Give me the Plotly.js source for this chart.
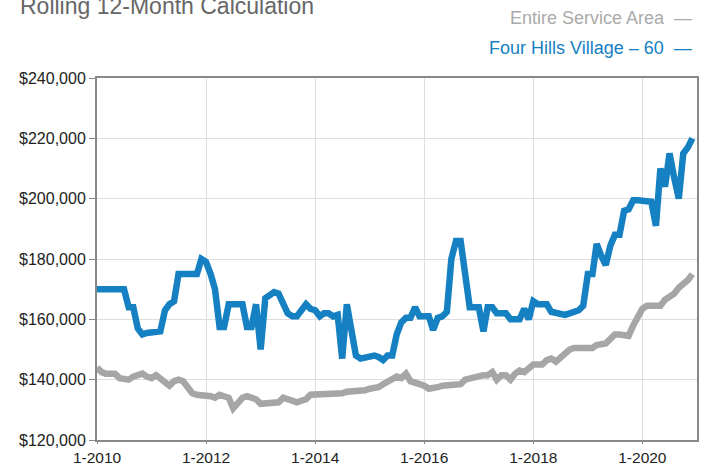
<!DOCTYPE html>
<html>
<head>
<meta charset="utf-8">
<script src="https://cdn.plot.ly/plotly-3.0.1.min.js"></script>
<style>
html,body{margin:0;padding:0;background:#fff;}
#chart{width:704px;height:466px;}
</style>
</head>
<body>
<div id="chart"></div>
<script>
// Monthly series, Jan 2010 .. Dec 2020
const startYear = 2010;
const fourHills = [
 170000,170000,170000,170000,170000,170000,170000,164000,164000,157000,155000,155500,
 155500,156000,156000,163000,165000,166000,175000,175000,175000,175000,175000,180000,
 179000,175000,170000,157500,157500,165000,165000,165000,165000,157500,157500,165000,
 150000,167000,168000,169000,168500,165000,162000,161000,161000,163000,165000,163500,
 163000,161000,162000,162000,161000,161500,147000,165000,156000,148000,147000,147500,
 147500,148000,147500,146500,148000,148000,155000,159000,160500,160500,164000,161000,
 161000,161000,156500,160500,161000,162500,180000,186000,186000,175000,164000,164000,
 164000,156000,164000,164000,162000,162000,162000,160000,160000,160000,163500,160000,
 166000,165000,165000,165000,162500,162000,162000,161500,162000,162500,163000,164500,
 175000,175000,185000,181000,178000,184500,188000,188000,196000,196500,199500,199500,
 199500,199500,199000,191000,210000,204000,215000,207000,200000,215000,217000,220000
];
const serviceArea = [
 144000,142500,142000,142000,142000,140500,140000,140000,141000,141500,142000,141000,
 140500,141500,140500,139500,138000,139500,140000,139500,137500,135500,135000,135000,
 135000,134500,134000,135000,134500,134000,130500,132500,134000,134500,134000,133500,
 132000,132000,132000,132000,132500,134000,133500,133000,132500,133000,133500,135000,
 135000,135000,135000,135000,135000,135000,135500,136000,136000,136000,136000,136500,
 137000,137000,137500,138500,139500,140500,141000,140500,142000,139500,139000,139000,
 138000,137000,137000,137500,138000,138000,138000,138000,138500,140000,140500,141000,
 141000,141500,141500,142500,140000,141500,141500,140000,142000,143000,142500,143500,
 145000,145000,145000,146500,147000,146000,147500,149000,150000,150500,150500,150500,
 150500,150500,151500,152000,152000,153500,155000,155000,155000,154500,158000,161000,
 163500,164500,164500,164500,164500,166500,167500,168500,170500,171500,173000,175000
];
const tickVals = ['2010-01-01','2012-01-01','2014-01-01','2016-01-01','2018-01-01','2020-01-01'];
const tickText = ['1-2010','1-2012','1-2014','1-2016','1-2018','1-2020'];
const yTickVals = [120000,140000,160000,180000,200000,220000,240000];
const yTickText = ['$120,000','$140,000','$160,000','$180,000','$200,000','$220,000','$240,000'];

function monthDates(n){
  const out=[];
  for(let i=0;i<n;i++){
    const y = startYear + Math.floor(i/12);
    const m = (i%12)+1;
    out.push(y+'-'+String(m).padStart(2,'0')+'-01');
  }
  return out;
}
const dates = monthDates(fourHills.length);

const gray = '#a6a6a6';
const blue = '#1580c2';
const font = '"Liberation Sans", Arial, sans-serif';

const traces = [
 {x: dates, y: serviceArea, type:'scatter', mode:'lines', name:'Entire Service Area',
  line:{color:gray, width:6.5}, hoverinfo:'skip'},
 {x: dates, y: fourHills, type:'scatter', mode:'lines', name:'Four Hills Village – 60',
  line:{color:blue, width:6.5}, hoverinfo:'skip'}
];

const layout = {
  width:704, height:466,
  margin:{l:97, r:7, t:78, b:26},
  paper_bgcolor:'#fff', plot_bgcolor:'#fff',
  showlegend:false,
  title:{text:'Rolling 12-Month Calculation', x:20/704, xref:'container', xanchor:'left',
         y:1-14/466, yref:'container', yanchor:'bottom',
         font:{family:font, size:23, color:'#666'}},
  xaxis:{type:'date', range:['2010-01-01','2021-01-01'],
         tickvals:tickVals, ticktext:tickText, ticks:'outside', ticklen:2, tickcolor:'#888',
         showgrid:true, gridcolor:'#dedede', gridwidth:1,
         showline:true, linecolor:'#888', linewidth:2, mirror:true,
         tickfont:{family:font, size:15.5, color:'#222'}, zeroline:false},
  yaxis:{range:[120000,240000], tickvals:yTickVals, ticktext:yTickText,
         ticks:'outside', ticklen:6, tickcolor:'#888',
         showgrid:true, gridcolor:'#dedede', gridwidth:1,
         showline:true, linecolor:'#888', linewidth:2, mirror:true,
         tickfont:{family:font, size:16, color:'#222'}, zeroline:false},
  annotations:[
    {text:'Entire Service Area  —', xref:'paper', yref:'paper', x:1-3/600, y:1+60/362,
     xanchor:'right', yanchor:'middle', showarrow:false,
     font:{family:font, size:18, color:'#aaaaaa'}},
    {text:'Four Hills Village – 60  —', xref:'paper', yref:'paper', x:1-3/600, y:1+30/362,
     xanchor:'right', yanchor:'middle', showarrow:false,
     font:{family:font, size:18, color:blue}}
  ]
};

Plotly.newPlot('chart', traces, layout, {displayModeBar:false, staticPlot:true});
</script>
</body>
</html>
